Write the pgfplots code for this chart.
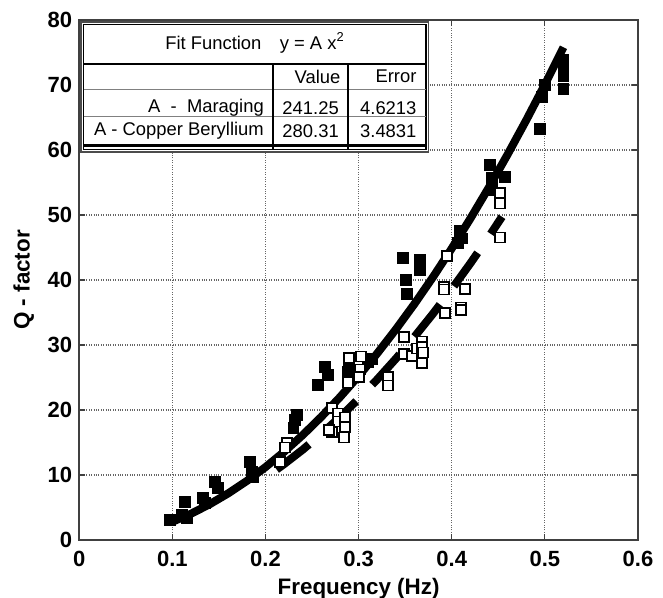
\documentclass[border=0pt]{standalone}
\usepackage{fontspec}
\setmainfont{Liberation Sans}
\usepackage{pgfplots}
\pgfplotsset{compat=1.18}
\begin{document}
\begin{tikzpicture}
\begin{axis}[
  at={(0,0)}, anchor=south west,
  scale only axis, width=279.4pt, height=260pt,
  xmin=0, xmax=0.6, ymin=0, ymax=80,
  xtick={0,0.1,0.2,0.3,0.4,0.5,0.6},
  xticklabels={0,0.1,0.2,0.3,0.4,0.5,0.6},
  ytick={0,10,20,30,40,50,60,70,80},
  yticklabels={0,10,20,30,40,50,60,70,80},
  /pgf/number format/assume math mode=true,
  ticklabel style={font=\bfseries\fontsize{11}{13}\selectfont},
  xticklabel style={yshift=-2pt},
  grid=major,
  major grid style={gray!80!black, line width=0.6pt, dash pattern=on 0.5pt off 0.7pt},
  axis line style={gray!50!black, line width=0.8pt},
  tick style={gray!50!black, line width=0.6pt},
  major tick length=3pt,
  tick align=inside,
  xlabel={Frequency (Hz)}, ylabel={Q - factor},
  xlabel style={yshift=1pt},
  label style={font=\bfseries\fontsize{11.2}{13}\selectfont},
  clip=false,
]
% fit curves (typed values of y = A x^2)
\addplot[black, line width=4pt, line join=round] coordinates {
(0.10,2.803) (0.12,4.036) (0.14,5.494) (0.16,7.176) (0.18,9.082) (0.20,11.212)
(0.22,13.567) (0.24,16.146) (0.26,18.949) (0.28,21.976) (0.30,25.228) (0.32,28.704)
(0.34,32.404) (0.36,36.328) (0.38,40.477) (0.40,44.850) (0.42,49.447) (0.44,54.268)
(0.46,59.314) (0.48,64.583) (0.50,70.078) (0.52,75.796)
};
\addplot[black, line width=4pt, line join=round, dash pattern=on 20.5pt off 11.5pt] coordinates {
(0.212,10.843) (0.22,11.677) (0.24,13.896) (0.26,16.309) (0.28,18.914) (0.30,21.713) (0.32,24.704)
(0.34,27.889) (0.36,31.266) (0.38,34.837) (0.40,38.600) (0.42,42.557) (0.44,46.706)
(0.454,49.725)
};
% Copper Beryllium (filled)
\addplot[only marks, mark=square*, mark size=2.7pt, mark options={fill=black, draw=black}] coordinates {
(0.0975,3.1) (0.1136,5.8) (0.1104,3.8) (0.1158,3.4) (0.1329,6.5) (0.1351,5.7)
(0.1458,8.9) (0.1490,8.0) (0.1834,12.0) (0.1856,10.5) (0.1866,9.7)
(0.234,19.2) (0.232,18.5) (0.230,17.2) (0.256,23.8) (0.264,26.6) (0.267,25.4)
(0.2886,25.8) (0.289,26.8) (0.310,27.4) (0.314,27.9)
(0.3477,43.4) (0.366,43.1) (0.366,41.5) (0.3509,40.0) (0.352,37.8)
(0.409,47.5) (0.411,46.4) (0.407,45.7)
(0.441,57.7) (0.4433,55.7) (0.4572,55.8) (0.4433,53.8)
(0.497,68.2) (0.500,70.0) (0.495,63.3)
(0.520,73.8) (0.520,72.9) (0.520,71.4) (0.520,69.4)
};
% Maraging (hollow)
\addplot[only marks, mark=square*, mark size=2.5pt, mark options={fill=white, draw=black, line width=0.7pt}] coordinates {
(0.2231,14.9) (0.221,14.2) (0.2156,12.0)
(0.2714,20.3) (0.2779,19.5) (0.2779,18.2) (0.2854,18.8) (0.2854,17.4) (0.2714,16.6) (0.2843,15.8) (0.2682,16.9)
(0.2897,28.0) (0.3026,28.2) (0.3015,26.2) (0.2886,24.2) (0.3004,25.1)
(0.3316,25.1) (0.3316,23.8)
(0.3487,31.2) (0.3487,28.6) (0.3573,28.3) (0.3627,29.5) (0.368,30.5) (0.368,29.7) (0.369,28.8) (0.368,27.2)
(0.3949,43.7) (0.3917,38.9) (0.3917,38.5) (0.4142,38.6) (0.3927,34.9) (0.4099,35.8) (0.4099,35.4)
(0.4519,53.4) (0.4519,51.8) (0.4519,46.5)
};
% fit table
\fill[white] (0.002,59.7) rectangle (0.375,79.7);
\draw[gray!60!black, line width=0.9pt] (0.002,59.7) rectangle (0.375,79.7);
\draw[black, line width=0.7pt] (0.0048,60.1) rectangle (0.3722,79.3);
\draw[black, line width=1pt] (0.0048,73.3) -- (0.3722,73.3);
\draw[gray, line width=0.5pt] (0.0048,69.3) -- (0.3722,69.3);
\draw[gray, line width=0.5pt] (0.0048,65.2) -- (0.3722,65.2);
\draw[black, line width=1pt] (0.2085,73.3) -- (0.2085,60.1);
\draw[black, line width=1pt] (0.289,73.3) -- (0.289,60.1);
\draw[black, line width=1.3pt] (0.0048,60.7) -- (0.3722,60.7);
\begin{scope}[every node/.style={font=\fontsize{9.2}{11}\selectfont, inner sep=0pt}]
\node at (0.1888,76.5) {Fit Function\quad y = A x\textsuperscript{2}};
\node[anchor=east, xshift=-3.8pt] at (0.289,71.3) {Value};
\node[anchor=east, xshift=-4.5pt] at (0.3722,71.3) {Error};
\node[anchor=east, xshift=-4.6pt] at (0.2085,66.5) {A\ \ -\ \ Maraging};
\node[anchor=east, xshift=-4.6pt] at (0.289,66.5) {241.25};
\node[anchor=east, xshift=-4.5pt] at (0.3722,66.5) {4.6213};
\node[anchor=east, xshift=-4.6pt] at (0.2085,62.9) {A - Copper Beryllium};
\node[anchor=east, xshift=-4.6pt] at (0.289,62.9) {280.31};
\node[anchor=east, xshift=-4.5pt] at (0.3722,62.9) {3.4831};
\end{scope}
\end{axis}
\pgfresetboundingbox
\path (-39.6pt,-29pt) rectangle (291.9pt,270pt);
\end{tikzpicture}
\end{document}
